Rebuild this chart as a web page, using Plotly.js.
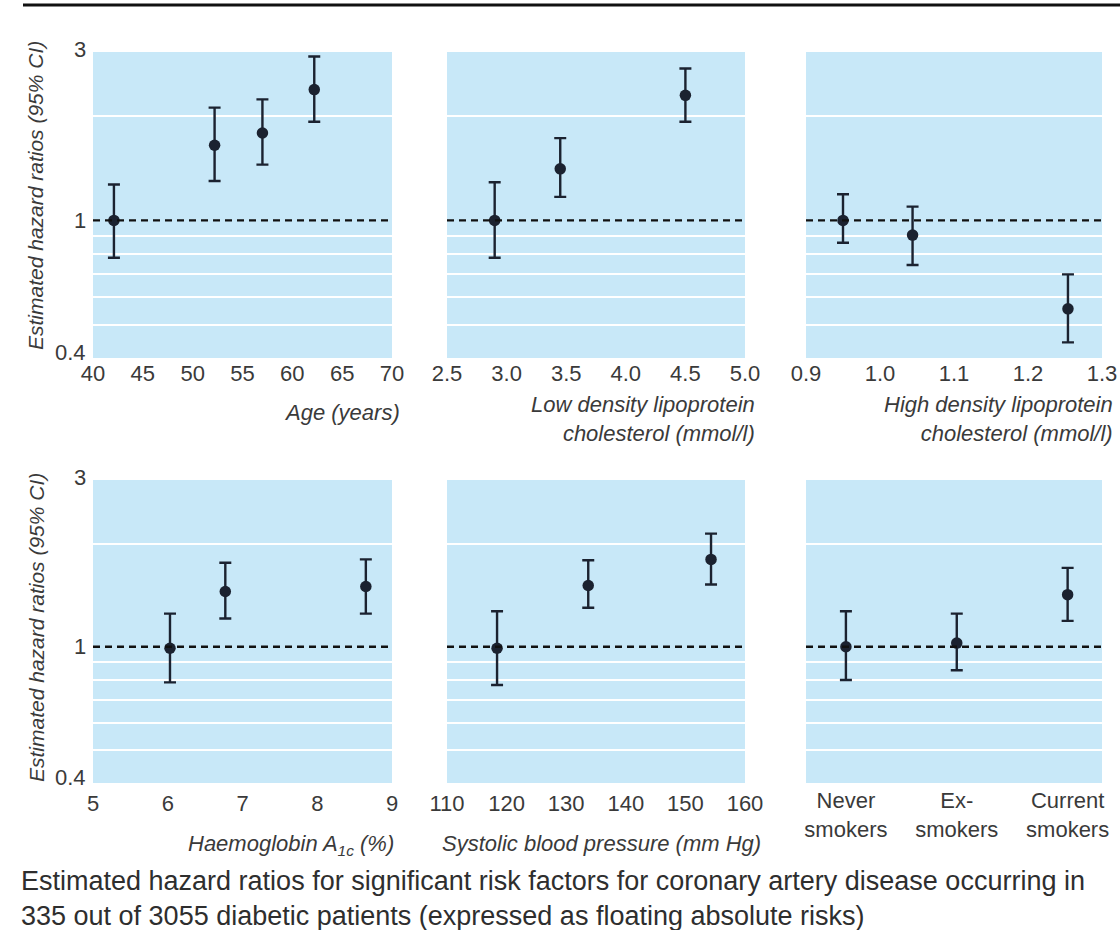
<!DOCTYPE html>
<html>
<head>
<meta charset="utf-8">
<script src="https://cdn.plot.ly/plotly-3.0.1.min.js"></script>
<style>
  html, body { margin: 0; padding: 0; background: #ffffff; }
  #chart { width: 1120px; height: 930px; }
</style>
</head>
<body>
<div id="chart"></div>
<script>
// Hazard ratios (95% CI) for coronary artery disease risk factors
const ageX   = [42.1, 52.2, 57.0, 62.2];
const ageHR  = [1.00, 1.65, 1.79, 2.39];
const ageLo  = [0.78, 1.30, 1.45, 1.93];
const ageHi  = [1.27, 2.12, 2.24, 2.98];

const ldlX   = [2.9, 3.45, 4.5];
const ldlHR  = [1.00, 1.41, 2.30];
const ldlLo  = [0.78, 1.17, 1.93];
const ldlHi  = [1.29, 1.73, 2.75];

const hdlX   = [0.95, 1.044, 1.254];
const hdlHR  = [1.00, 0.907, 0.555];
const hdlLo  = [0.862, 0.743, 0.444];
const hdlHi  = [1.19, 1.096, 0.698];

const hbaX   = [6.03, 6.77, 8.65];
const hbaHR  = [0.99, 1.45, 1.50];
const hbaLo  = [0.787, 1.21, 1.25];
const hbaHi  = [1.25, 1.76, 1.80];

const sbpX   = [118.4, 133.7, 154.3];
const sbpHR  = [0.99, 1.51, 1.80];
const sbpLo  = [0.773, 1.30, 1.52];
const sbpHi  = [1.27, 1.79, 2.14];

const smokeCats = ['Never<br>smokers', 'Ex-<br>smokers', 'Current<br>smokers'];
const smokeHR   = [1.00, 1.025, 1.42];
const smokeLo   = [0.80, 0.854, 1.19];
const smokeHi   = [1.27, 1.25, 1.70];

const yTickVals  = [0.4, 1, 3];
const yTickText  = ['0.4', '1', '3'];
const yGridVals  = [0.5, 0.6, 0.7, 0.8, 0.9, 2];
const yRange     = [0.4, 3.07];

const W = 1120, H = 930;
const FONT = '"Liberation Sans", Arial, Helvetica, sans-serif';
const INK = '#1b2230';
const TXT = '#3a3a3a';
const BLUE = '#c8e8f8';

const px = v => v / W;
const py = v => (H - v) / H;

function series(x, hr, lo, hi, xa, ya) {
  return {
    type: 'scatter', mode: 'markers',
    x: x, y: hr, xaxis: xa, yaxis: ya,
    marker: { color: INK, size: 11.5 },
    error_y: {
      type: 'data', symmetric: false,
      array: hi.map((h, i) => h - hr[i]),
      arrayminus: hr.map((v, i) => v - lo[i]),
      color: INK, thickness: 2.4, width: 6
    },
    showlegend: false, hoverinfo: 'x+y'
  };
}

const traces = [
  series(ageX, ageHR, ageLo, ageHi, 'x', 'y'),
  series(ldlX, ldlHR, ldlLo, ldlHi, 'x2', 'y2'),
  series(hdlX, hdlHR, hdlLo, hdlHi, 'x3', 'y3'),
  series(hbaX, hbaHR, hbaLo, hbaHi, 'x4', 'y4'),
  series(sbpX, sbpHR, sbpLo, sbpHi, 'x5', 'y5'),
  series([0, 1, 2], smokeHR, smokeLo, smokeHi, 'x6', 'y6')
];

// Panel boxes in pixels: [left, right] and [top, bottom]
const cols = [[93, 392], [447, 745], [806, 1102]];
const rows = [[52, 358], [480, 783]];

function xAxis(col, extra) {
  return Object.assign({
    domain: [px(cols[col][0]), px(cols[col][1])],
    showgrid: false, zeroline: false, showline: false,
    ticks: '',
    tickfont: { family: FONT, size: 22, color: TXT }
  }, extra);
}
function yAxis(row, anchor) {
  return {
    domain: [py(rows[row][1]), py(rows[row][0])],
    anchor: anchor,
    type: 'log', range: yRange.map(Math.log10),
    tickvals: yTickVals, showticklabels: false,
    showgrid: false, zeroline: false, showline: false,
    ticks: '',
    minor: { tickvals: yGridVals, showgrid: true, gridcolor: '#ffffff', gridwidth: 2, ticks: '' }
  };
}

const layout = {
  width: W, height: H,
  margin: { l: 0, r: 0, t: 0, b: 0 },
  paper_bgcolor: '#ffffff',
  plot_bgcolor: BLUE,
  font: { family: FONT, color: TXT },
  xaxis:  xAxis(0, { anchor: 'y',  range: [40, 70], dtick: 5, tick0: 40 }),
  xaxis2: xAxis(1, { anchor: 'y2', range: [2.5, 5.0], dtick: 0.5, tick0: 2.5, tickformat: '.1f' }),
  xaxis3: xAxis(2, { anchor: 'y3', range: [0.9, 1.3], dtick: 0.1, tick0: 0.9, tickformat: '.1f' }),
  xaxis4: xAxis(0, { anchor: 'y4', range: [5, 9], dtick: 1, tick0: 5, ticklabelstandoff: 5 }),
  xaxis5: xAxis(1, { anchor: 'y5', range: [110, 160], dtick: 10, tick0: 110, ticklabelstandoff: 5 }),
  xaxis6: xAxis(2, { anchor: 'y6', range: [-0.36, 2.31], tickvals: [0, 1, 2], ticktext: smokeCats, ticklabelstandoff: 2 }),
  yaxis:  yAxis(0, 'x'),
  yaxis2: yAxis(0, 'x2'),
  yaxis3: yAxis(0, 'x3'),
  yaxis4: yAxis(1, 'x4'),
  yaxis5: yAxis(1, 'x5'),
  yaxis6: yAxis(1, 'x6'),
  shapes: [],
  annotations: []
};

// Reference line at a hazard ratio of 1 in every panel
['', '2', '3', '4', '5', '6'].forEach(s => {
  layout.shapes.push({
    type: 'line', xref: 'x' + s + ' domain', yref: 'y' + s,
    x0: 0, x1: 1, y0: 1, y1: 1,
    line: { color: '#111111', width: 2.4, dash: '7px,5px' },
    layer: 'above'
  });
});

// Rule across the top of the figure
layout.shapes.push({
  type: 'line', xref: 'paper', yref: 'paper',
  x0: px(23), x1: 1, y0: py(5), y1: py(5),
  line: { color: '#111111', width: 3 }
});

// Y tick labels of the left-hand panels; the end labels sit just inside the plot edges
const yLabelLift = [6, 0, 6];
[['x', 'y'], ['x4', 'y4']].forEach(([xa, ya]) => {
  yTickVals.forEach((v, i) => {
    layout.annotations.push({
      text: yTickText[i], xref: xa + ' domain', yref: ya,
      x: 0, y: Math.log10(v), xanchor: 'right', yanchor: 'middle',
      xshift: -5, yshift: yLabelLift[i], showarrow: false,
      font: { family: FONT, size: 22, color: TXT }
    });
  });
});

const italic = (t, x, y) => ({
  text: t, xref: 'paper', yref: 'paper', x: px(x), y: py(y),
  xanchor: 'right', yanchor: 'middle', align: 'right', showarrow: false,
  font: { family: FONT, size: 22, color: TXT, style: 'italic' }
});

layout.annotations.push(
  italic('Age (years)', 402, 412),
  italic('Low density lipoprotein<br>cholesterol (mmol/l)', 757, 419),
  italic('High density lipoprotein<br>cholesterol (mmol/l)', 1115, 419),
  italic('Haemoglobin A<sub>1c</sub> (%)', 396, 845),
  italic('Systolic blood pressure (mm Hg)', 763, 843)
);

[196, 628].forEach(yc => {
  layout.annotations.push({
    text: 'Estimated hazard ratios (95% CI)', xref: 'paper', yref: 'paper',
    x: px(36), y: py(yc), xanchor: 'center', yanchor: 'middle',
    textangle: -90, showarrow: false,
    font: { family: FONT, size: 21, color: TXT, style: 'italic' }
  });
});

layout.annotations.push({
  text: 'Estimated hazard ratios for significant risk factors for coronary artery disease occurring in<br>335 out of 3055 diabetic patients (expressed as floating absolute risks)',
  xref: 'paper', yref: 'paper', x: px(19), y: py(898),
  xanchor: 'left', yanchor: 'middle', align: 'left', showarrow: false,
  font: { family: FONT, size: 27, color: '#2e2e2e' }
});

Plotly.newPlot('chart', traces, layout, { staticPlot: true, displayModeBar: false });
</script>
</body>
</html>
